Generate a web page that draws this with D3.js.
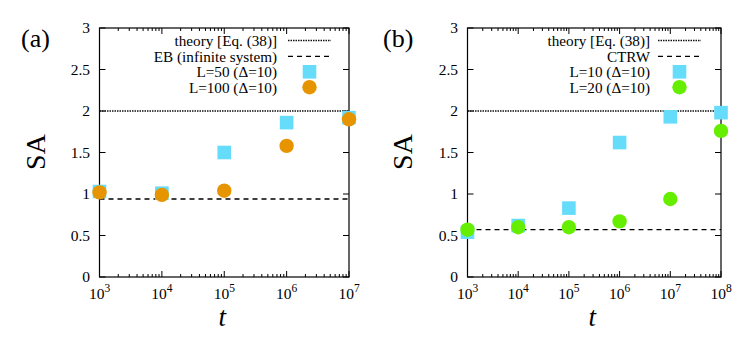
<!DOCTYPE html>
<html><head><meta charset="utf-8">
<script src="https://cdn.jsdelivr.net/npm/d3@7/dist/d3.min.js"></script>
<style>body{margin:0;background:#fff}</style>
</head><body><svg id="c" width="747" height="343"></svg>
<script>
// ---- data ----
const yTicks = [0, 0.5, 1, 1.5, 2, 2.5, 3];
const tA = [1e3, 1e4, 1e5, 1e6, 1e7];
const sqA = [1.03, 1.01, 1.50, 1.86, 1.92];   // L=50
const ciA = [1.02, 0.99, 1.04, 1.58, 1.90];   // L=100
const theoryA = 2.0, ebA = 0.94;
const tB = [1e3, 1e4, 1e5, 1e6, 1e7, 1e8];
const sqB = [0.54, 0.62, 0.83, 1.62, 1.93, 1.98]; // L=10
const ciB = [0.57, 0.60, 0.60, 0.67, 0.94, 1.76]; // L=20
const theoryB = 2.0, ctrwB = 0.57;
const legendA = ["theory [Eq. (38)]", "EB (infinite system)", "L=50 (\u0394=10)", "L=100 (\u0394=10)"];
const legendB = ["theory [Eq. (38)]", "CTRW", "L=10 (\u0394=10)", "L=20 (\u0394=10)"];

const svg = d3.select("#c");
const FONT = "Liberation Serif";
const BLUE = "#66dcfb", ORANGE = "#e69500", GREEN = "#66ee00";

function txt(g) { return g.append("text").attr("font-family", FONT).attr("fill", "#000"); }

function panel(o) {
  const g = svg.append("g");
  const x = d3.scaleLog().domain(o.xdom).range([o.x0, o.x1]);
  const y = d3.scaleLinear().domain([0, 3]).range([277, 28]);
  g.append("rect").attr("x", o.x0).attr("y", 28).attr("width", o.x1 - o.x0).attr("height", 249)
    .attr("fill", "none").attr("stroke", "#000").attr("stroke-width", 1.2);
  const dec = [];
  for (let e = Math.log10(o.xdom[0]); e < Math.log10(o.xdom[1]); e++)
    for (let m = 2; m <= 9; m++) dec.push(m * Math.pow(10, e));
  const majors = d3.range(Math.log10(o.xdom[0]), Math.log10(o.xdom[1]) + 1).map(e => Math.pow(10, e));
  [[majors, 6], [dec, 3]].forEach(([arr, len]) => {
    arr.forEach(v => {
      g.append("line").attr("x1", x(v)).attr("x2", x(v)).attr("y1", 277).attr("y2", 277 - len).attr("stroke", "#000");
      g.append("line").attr("x1", x(v)).attr("x2", x(v)).attr("y1", 28).attr("y2", 28 + len).attr("stroke", "#000");
    });
  });
  majors.forEach(v => {
    const t = txt(g).attr("x", x(v)).attr("y", 299).attr("text-anchor", "middle").attr("font-size", 15.5);
    t.append("tspan").text("10");
    t.append("tspan").attr("dy", -7).attr("font-size", 11.5).text(Math.round(Math.log10(v)));
  });
  yTicks.forEach(v => {
    g.append("line").attr("x1", o.x0).attr("x2", o.x0 + 6).attr("y1", y(v)).attr("y2", y(v)).attr("stroke", "#000");
    g.append("line").attr("x1", o.x1).attr("x2", o.x1 - 6).attr("y1", y(v)).attr("y2", y(v)).attr("stroke", "#000");
    txt(g).attr("x", o.x0 - 9.5).attr("y", y(v) + 5).attr("text-anchor", "end").attr("font-size", 15.5).text(v);
  });
  txt(g).attr("transform", `translate(${o.x0 - o.sao},152) rotate(-90)`).attr("text-anchor", "middle")
    .attr("font-size", 28).text("SA");
  txt(g).attr("x", (o.x0 + o.x1) / 2 - 2).attr("y", 326).attr("text-anchor", "middle")
    .attr("font-size", 27).attr("font-style", "italic").text("t");
  txt(g).attr("x", o.tagx).attr("y", 47).attr("font-size", 26).text(o.tag);
  g.append("line").attr("x1", o.x0).attr("x2", o.x1).attr("y1", y(o.theory)).attr("y2", y(o.theory))
    .attr("stroke", "#111").attr("stroke-width", 1.4).attr("stroke-dasharray", "1.5,1");
  g.append("line").attr("x1", o.x0).attr("x2", o.x1).attr("y1", y(o.ref)).attr("y2", y(o.ref))
    .attr("stroke", "#000").attr("stroke-width", 1.3).attr("stroke-dasharray", "5,4");
  o.t.forEach((tv, i) => {
    g.append("rect").attr("x", x(tv) - 6.8).attr("y", y(o.sq[i]) - 6.8).attr("width", 13.6).attr("height", 13.6).attr("fill", BLUE);
  });
  o.t.forEach((tv, i) => {
    g.append("circle").attr("cx", x(tv)).attr("cy", y(o.ci[i])).attr("r", 7.2).attr("fill", o.ccol);
  });
  const rows = [40.5, 56.3, 71.8, 87.2];
  o.legend.forEach((s, i) => {
    txt(g).attr("x", o.lx).attr("y", rows[i] + 5.3).attr("text-anchor", "end").attr("font-size", 15.2).text(s);
  });
  g.append("line").attr("x1", o.lx + o.l0).attr("x2", o.lx + o.l0 + 43).attr("y1", rows[0]).attr("y2", rows[0])
    .attr("stroke", "#111").attr("stroke-width", 1.4).attr("stroke-dasharray", "1.5,1");
  g.append("line").attr("x1", o.lx + o.l0).attr("x2", o.lx + o.l0 + 43).attr("y1", rows[1]).attr("y2", rows[1])
    .attr("stroke", "#000").attr("stroke-width", 1.3).attr("stroke-dasharray", "5,4");
  const mx = o.lx + o.l0 + 21.5;
  g.append("rect").attr("x", mx - 6.8).attr("y", rows[2] - 6.8).attr("width", 13.6).attr("height", 13.6).attr("fill", BLUE);
  g.append("circle").attr("cx", mx).attr("cy", rows[3]).attr("r", 7.2).attr("fill", o.ccol);
}

panel({x0: 99.5, x1: 349, xdom: [1e3, 1e7], t: tA, sq: sqA, ci: ciA, theory: theoryA, ref: ebA,
       ccol: ORANGE, legend: legendA, lx: 277, l0: 11, tag: "(a)", tagx: 21, sao: 55});
panel({x0: 467.5, x1: 721, xdom: [1e3, 1e8], t: tB, sq: sqB, ci: ciB, theory: theoryB, ref: ctrwB,
       ccol: GREEN, legend: legendB, lx: 650, l0: 8, tag: "(b)", tagx: 383, sao: 56});
</script></body></html>
